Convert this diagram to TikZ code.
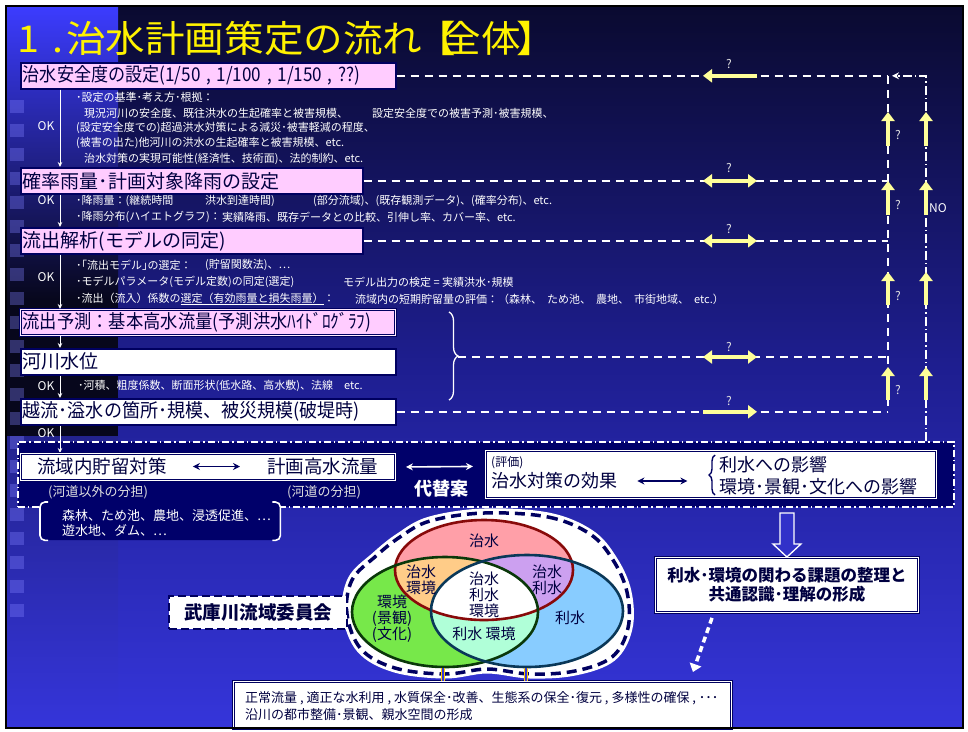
\documentclass[tikz,border=0pt]{standalone}
\usepackage{fontspec}
\newfontfamily\cjk{Noto Sans CJK JP}
\usetikzlibrary{arrows.meta,calc,decorations.pathreplacing}
\definecolor{navy}{HTML}{000060}
\definecolor{navytext}{HTML}{000040}
\definecolor{navyfill}{HTML}{00006A}
\definecolor{pinkc}{HTML}{FFCCFF}
\definecolor{yel}{HTML}{FFFF99}
\definecolor{bgtop}{HTML}{0A0A30}
\definecolor{bgmid}{HTML}{1E1E90}
\definecolor{bgbot}{HTML}{3535DA}
\definecolor{striptop}{HTML}{3C3CFF}
\definecolor{stripdark}{HTML}{07071C}
\definecolor{qgray}{HTML}{E0E0E0}
\definecolor{redE}{HTML}{FF9FA8}
\definecolor{greenE}{HTML}{77E84A}
\definecolor{blueE}{HTML}{88CCFF}
\definecolor{rgE}{HTML}{FFCC88}
\definecolor{rbE}{HTML}{CCA0F0}
\definecolor{gbE}{HTML}{B0FFD8}
\definecolor{redB}{HTML}{880A0A}
\definecolor{greenB}{HTML}{0A380A}
\definecolor{blueB}{HTML}{0A3858}
\definecolor{gold}{HTML}{FFCC00}
\newcommand{\myfs}[1]{\fontsize{#1}{#1}\selectfont}
\tikzset{
 stepbox/.style={anchor=north west, draw=navy, line width=1.6pt, fill=pinkc, inner xsep=2pt, inner ysep=0pt, minimum height=26pt, text=navytext, font=\cjk\myfs{19}, align=left},
 note/.style={anchor=west, text=white, inner sep=0pt, font=\cjk\myfs{11}},
 okarrow/.style={white, line width=1pt, -{Stealth[length=5pt,width=4.5pt]}},
 oklab/.style={text=white, inner sep=0pt, font=\cjk\myfs{12}},
 wdash/.style={white, line width=1.6pt, dash pattern=on 8pt off 6pt},
 wdashdot/.style={white, line width=1.5pt, dash pattern=on 9pt off 3pt on 1.5pt off 3pt},
 yarr/.style={yel, line width=4.5pt, -{Triangle[length=9pt,width=13pt]}},
 ydarr/.style={yel, line width=4.5pt, {Triangle[length=9pt,width=13pt]}-{Triangle[length=9pt,width=13pt]}},
 qlab/.style={text=qgray, inner sep=0pt, font=\cjk\myfs{12}},
 dblbox/.style={anchor=north west, fill=white, draw=navy, double=white, double distance=1pt, line width=0.9pt, inner sep=0pt},
 navyarr/.style={navy, line width=1.6pt, {Stealth[length=7pt,width=7pt]}-{Stealth[length=7pt,width=7pt]}},
 vlab/.style={text=navytext, inner sep=0pt, align=center, font=\cjk\fontsize{15}{16}\selectfont},
}
\begin{document}
\begin{tikzpicture}[x=1pt,y=-1pt]
% ---------- background ----------
\fill[white] (0,0) rectangle (968,731);
\shade[top color=bgtop, bottom color=bgbot, middle color=bgmid] (6,6) rectangle (963,728);
\shade[top color=striptop, bottom color=stripdark] (6,6) rectangle (118,300);
\fill[stripdark] (6,300) rectangle (118,436);
\shade[top color=stripdark!40!bgbot, bottom color=bgbot] (6,436) rectangle (118,728);
\foreach \yy in {100,124,...,612} \fill[blue!50!white, opacity=0.35] (10,\yy) rectangle (24,\yy+13);
% ---------- title ----------
\node[anchor=base west, inner sep=0pt, text=yellow, font=\cjk\myfs{37}, xscale=1.07, transform shape] (title) at (17,52) {1\hspace{12pt}.\hspace{3pt}治水計画策定の流れ\hspace{-6pt}【\hspace{-13pt}全体\hspace{-4pt}】};
% ---------- step boxes ----------
\node[stepbox, text width=371pt] (b1) at (20,62) {\scalebox{0.9}[1]{治水安全度の設定(1/50 , 1/100 , 1/150 , ??)}};
\node[stepbox, text width=338pt] (b2) at (20,167) {確率雨量･計画対象降雨の設定};
\node[stepbox, text width=338pt] (b3) at (20,227) {流出解析(モデルの同定)};
\node[stepbox, text width=371pt, double=pinkc!40!white, double distance=1.2pt, line width=0.9pt] (b4) at (20,309) {\scalebox{0.91}[1]{流出予測：基本高水流量(予測洪水ﾊｲﾄﾞﾛｸﾞﾗﾌ)}};
\node[stepbox, fill=white, text width=371pt] (b5) at (20,348) {河川水位};
\node[stepbox, fill=white, text width=371pt] (b6) at (20,398) {\scalebox{0.95}[1]{越流･溢水の箇所･規模、被災規模(破堤時)}};
% ---------- notes ----------
\node[note] (n1a) at (76,97) {･設定の基準･考え方･根拠：};
\node[note] (n1b) at (84,113) {現況河川の安全度、既往洪水の生起確率と被害規模、};
\node[note] (n1b2) at (372,113) {設定安全度での被害予測･被害規模、};
\node[note] (n1c) at (76,128) {(設定安全度での)超過洪水対策による減災･被害軽減の程度、};
\node[note] (n1d) at (76,143) {(被害の出た)他河川の洪水の生起確率と被害規模、etc.};
\node[note] (n1e) at (84,159) {治水対策の実現可能性(経済性、技術面)、法的制約、etc.};
\node[note] (n2a) at (76,201) {･降雨量：(継続時間};
\node[note] (n2a2) at (205,201) {洪水到達時間)};
\node[note] (n2a3) at (313,201) {(部分流域)、(既存観測データ)、(確率分布)、etc.};
\node[note] (n2b) at (76,217) {･降雨分布(ハイエトグラフ)：};
\node[note] (n2b2) at (222,217) {実績降雨、既存データとの比較、引伸し率、カバー率、etc.};
\node[note] (n3a) at (76,265) {･｢流出モデル｣の選定：};
\node[note] (n3a2) at (205,265) {(貯留関数法)、…};
\node[note] (n3b) at (76,282) {･モデルパラメータ(モデル定数)の同定(選定)};
\node[note] (n3b2) at (343,282) {モデル出力の検定 = 実績洪水･規模};
\node[note] (n3c) at (76,299) {･流出（流入）係数の\underline{選定（有効雨量と損失雨量）}：};
\node[note] (n3c2) at (355,299) {流域内の短期貯留量の評価：（森林、\hspace{5pt}ため池、\hspace{5pt}農地、\hspace{5pt}市街地域、\hspace{5pt}etc.）};
\node[note] (n5a) at (78,386) {･河積、粗度係数、断面形状(低水路、高水敷)、法線　etc.};
% ---------- OK arrows ----------
\draw[okarrow] ($(b1.south west)+(40,0)$) -- ($(b2.north west)+(40,0)$);
\draw[okarrow] ($(b2.south west)+(40,0)$) -- ($(b3.north west)+(40,0)$);
\draw[okarrow] ($(b3.south west)+(40,0)$) -- ($(b4.north west)+(40,0)$);
\draw[okarrow] ($(b4.south west)+(40,0)$) -- ($(b5.north west)+(40,0)$);
\draw[okarrow] ($(b5.south west)+(40,0)$) -- ($(b6.north west)+(40,0)$);
\node[oklab] (ok1) at (46,126) {OK};
\node[oklab] (ok2) at (46,200) {OK};
\node[oklab] (ok3) at (46,277) {OK};
\node[oklab] (ok5) at (46,386) {OK};
\node[oklab] (ok6) at (46,433) {OK};
% ---------- brace ----------
\draw[white, line width=1.3pt, decorate, decoration={brace, amplitude=9pt}] (449,312) -- (449,400);
\coordinate (brtip) at (458,357);
% ---------- right loop ----------
\coordinate (xl) at (888,0);
\coordinate (xn) at (926,0);
\coordinate (ya) at (703,0);
\coordinate (yb) at (757,0);
\draw[wdash] (b1.east) -- (b1.east -| xl);
\draw[wdash] (b2.east) -- (b2.east -| xl);
\draw[wdash] (b3.east) -- (b3.east -| xl);
\draw[wdash] (brtip) -- (brtip -| xl);
\draw[wdash] (b6.east) -- (b6.east -| xl);
\draw[wdash] (b1.east -| xl) -- (b6.east -| xl);
% ---------- dashed alternative box ----------
\node[anchor=north west, fill=navyfill, draw=white, line width=1.5pt, dash pattern=on 7pt off 3pt on 1.5pt off 3pt, minimum width=936pt, minimum height=65pt, inner sep=0pt] (dbox) at (17,441) {};
\draw[wdashdot, -{Stealth[length=7pt,width=7pt]}] (dbox.north -| xn) -- (b1.east -| xn) -- ($(b1.east -| xl)+(4,0)$);
\draw[okarrow] ($(b6.south west)+(40,0)$) -- (60,453);
% yellow arrows
\draw[yarr] (b1.east -| yb) -- (b1.east -| ya);
\draw[ydarr] (b2.east -| ya) -- (b2.east -| yb);
\draw[ydarr] (b3.east -| ya) -- (b3.east -| yb);
\draw[ydarr] (brtip -| ya) -- (brtip -| yb);
\draw[yarr] (b6.east -| ya) -- (b6.east -| yb);
\foreach \p/\q in {146/112, 215/181, 305/272, 400/367} {
  \draw[yarr] (888,\p) -- (888,\q);
  \draw[yarr] (926,\p) -- (926,\q);
}
\node[qlab] (q1) at (729,64) {?};
\node[qlab] (q2) at (729,168) {?};
\node[qlab] (q3) at (729,229) {?};
\node[qlab] (q4) at (729,347) {?};
\node[qlab] (q5) at (729,401) {?};
\node[qlab] (q6) at (898,135) {?};
\node[qlab] (q7) at (898,205) {?};
\node[qlab] (q8) at (898,296) {?};
\node[qlab] (q9) at (898,390) {?};
\node[qlab, text=white] (no) at (938,208) {NO};
% ---------- inside dashed box ----------
\node[dblbox, minimum width=375pt, minimum height=27pt] (ib1) at (20,453) {};
\node[anchor=west, text=navytext, inner sep=0pt, font=\cjk\myfs{18.5}] (s1) at (37,466.5) {流域内貯留対策};
\node[anchor=west, text=navytext, inner sep=0pt, font=\cjk\myfs{18.5}] (s2) at (267,466.5) {計画高水流量};
\draw[navyarr] ($(s1.east)+(26,0)$) -- ($(s2.west)+(-27,0)$);
\node[anchor=west, text=qgray, inner sep=0pt, font=\cjk\myfs{13}] (s1l) at (48,492) {(河道以外の分担)};
\node[anchor=west, text=qgray, inner sep=0pt, font=\cjk\myfs{13}] (s2l) at (287,492) {(河道の分担)};
\node[dblbox, minimum width=451pt, minimum height=48pt] (rb) at (485,450) {};
\draw[white, line width=1.6pt, {Stealth[length=7pt,width=7pt]}-{Stealth[length=7pt,width=7pt]}] ($(ib1.east)+(10,0)$) -- ($(rb.west)+(-12,-8)$);
\node[text=white, inner sep=0pt, font=\cjk\bfseries\myfs{18}] (dai) at (441,489) {代替案};
\node[anchor=west, text=navytext, inner sep=0pt, font=\cjk\myfs{12}] (hy) at (491,463) {(評価)};
\node[anchor=west, text=navytext, inner sep=0pt, font=\cjk\myfs{18}] (ef) at (491,481) {治水対策の効果};
\draw[navyarr] ($(ef.east)+(20,0)$) -- ($(ef.east)+(70,0)$);
\draw[navy, line width=1.4pt, decorate, decoration={brace, amplitude=6pt}] (715,495) -- (715,455);
\node[anchor=west, text=navytext, inner sep=0pt, font=\cjk\myfs{18}] (e1) at (719,465) {利水への影響};
\node[anchor=west, text=navytext, inner sep=0pt, font=\cjk\myfs{18}] (e2) at (719,487) {環境･景観･文化への影響};
% bracket box
\node[anchor=north west, fill=navyfill, rounded corners=6pt, minimum width=240pt, minimum height=38pt, inner sep=0pt] (brk) at (40,502) {};
\draw[white, line width=1.6pt, rounded corners=5pt] ($(brk.north west)+(8,0)$) -| (brk.south west) -- ++(8,0);
\draw[white, line width=1.6pt, rounded corners=5pt] ($(brk.north east)+(-8,0)$) -| (brk.south east) -- ++(-8,0);
\node[anchor=west, text=white, inner sep=0pt, font=\cjk\myfs{13}] (f1) at (62,516) {森林、ため池、農地、浸透促進、…};
\node[anchor=west, text=white, inner sep=0pt, font=\cjk\myfs{13}] (f2) at (62,531) {遊水地、ダム、…};
% ---------- common understanding box ----------
\node[dblbox, minimum width=263pt, minimum height=55pt, text=navytext, align=center, font=\cjk\bfseries\fontsize{16.5}{19.5}\selectfont] (cb) at (655,557) {利水･環境の関わる課題の整理と\\共通認識･理解の形成};
\draw[white, line width=1.3pt, fill=bgbot!92!black] ($(cb.north)+(-7,-44)$) -- ($(cb.north)+(7,-44)$) -- ($(cb.north)+(7,-13)$) -- ($(cb.north)+(14,-13)$) -- ($(cb.north)+(0,0)$) -- ($(cb.north)+(-14,-13)$) -- ($(cb.north)+(-7,-13)$) -- cycle;
% ---------- bottom box ----------
\node[dblbox, minimum width=498pt, minimum height=47pt] (bb) at (233,681) {};
\node[anchor=west, text=navytext, inner sep=0pt, font=\cjk\myfs{13}] (g1) at (245,698) {正常流量 , 適正な水利用 , 水質保全･改善、生態系の保全･復元 , 多様性の確保 , ･･･};
\node[anchor=west, text=navytext, inner sep=0pt, font=\cjk\myfs{13}] (g2) at (245,715) {沿川の都市整備･景観、親水空間の形成};
\draw[white, line width=3.5pt, dash pattern=on 6pt off 4pt, -{Triangle[length=8pt,width=12pt]}] ($(cb.south west)+(57,5)$) -- ($(bb.north east)+(-39,-9)$);
% ---------- Venn ----------
\draw[navy, line width=3.5pt, dash pattern=on 10pt off 6pt, preaction={fill=white}, preaction={draw=white, line width=9pt}]
  plot[smooth cycle, tension=0.6] coordinates {(484,513) (548,517) (590,534) (613,560) (627,592) (628,628) (612,657) (575,671) (530,674) (487,669) (445,674) (395,668) (361,649) (347,614) (352,580) (376,556) (400,537) (430,521)};
\fill[greenE] (445,612) ellipse [x radius=93, y radius=55];
\fill[blueE] (527,611) ellipse [x radius=96, y radius=56];
\fill[redE] (484,570) ellipse [x radius=89, y radius=50];
\begin{scope}\clip (484,570) ellipse [x radius=89, y radius=50]; \fill[rgE] (445,612) ellipse [x radius=93, y radius=55]; \end{scope}
\begin{scope}\clip (484,570) ellipse [x radius=89, y radius=50]; \fill[rbE] (527,611) ellipse [x radius=96, y radius=56]; \end{scope}
\begin{scope}\clip (445,612) ellipse [x radius=93, y radius=55]; \fill[gbE] (527,611) ellipse [x radius=96, y radius=56]; \end{scope}
\begin{scope}\clip (484,570) ellipse [x radius=89, y radius=50]; \clip (445,612) ellipse [x radius=93, y radius=55]; \fill[white] (527,611) ellipse [x radius=96, y radius=56]; \end{scope}
\draw[redB, line width=2.6pt] (484,570) ellipse [x radius=89, y radius=50];
\draw[greenB, line width=2.6pt] (445,612) ellipse [x radius=93, y radius=55];
\draw[blueB, line width=2.6pt] (527,611) ellipse [x radius=96, y radius=56];
\node[vlab] (v1) at (484,541) {治水};
\node[vlab] (v2) at (421,580) {治水\\環境};
\node[vlab] (v3) at (547,580) {治水\\利水};
\node[vlab] (v4) at (484,595) {治水\\利水\\環境};
\node[vlab] (v5) at (392,619) {環境\\(景観)\\(文化)};
\node[vlab] (v6) at (484,634) {利水 環境};
\node[vlab] (v7) at (570,618) {利水};
\coordinate (vg1) at (443,668);
\coordinate (vg2) at (526,668);
\draw[gold, line width=1.1pt, double=bgbot, double distance=2pt] (vg1) -- (bb.north -| vg1);
\draw[gold, line width=1.1pt, double=bgbot, double distance=2pt] (vg2) -- (bb.north -| vg2);
\node[anchor=north west, fill=white, draw=navy, line width=2pt, dash pattern=on 8pt off 4pt, minimum width=178pt, minimum height=33pt, inner sep=0pt, text=navytext, font=\cjk\bfseries\myfs{18.5}] (mk) at (168,595) {武庫川流域委員会};
% ---------- frame ----------
\draw[black, line width=1.5pt] (6,6) rectangle (963,728);
\end{tikzpicture}
\end{document}
